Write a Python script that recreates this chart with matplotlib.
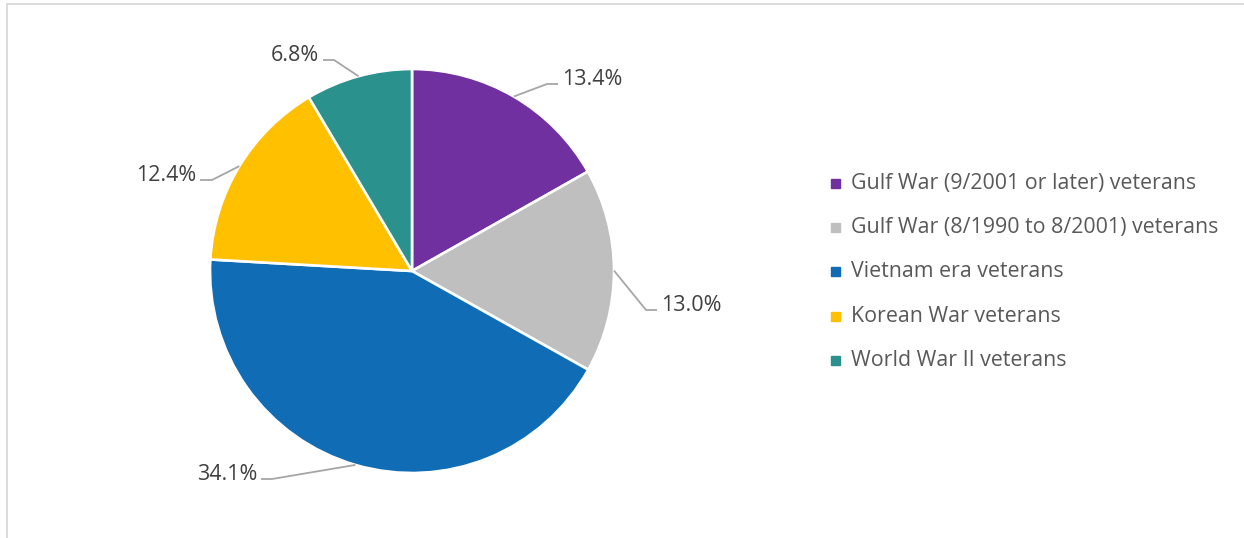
import matplotlib.pyplot as plt
import matplotlib.patches as mpatches
import numpy as np

# данные
categories = ['Gulf War (9/2001 or later) veterans',
              'Gulf War (8/1990 to 8/2001) veterans',
              'Vietnam era veterans',
              'Korean War veterans',
              'World War II veterans']
shares = [13.4, 13.0, 34.1, 12.4, 6.8]
labels = ['13.4%', '13.0%', '34.1%', '12.4%', '6.8%']
colors = ['#7030A0', '#BFBFBF', '#106DB5', '#FFC000', '#2A918D']

# геометрия в пикселях
W, H = 1244, 538
cx, cy, R = 412, 271, 202


def px(x, y):
    return (x - cx) / R, (cy - y) / R


# где стоят подписи: (x текста, y низа, ha, x излома)
label_pos = [(562, 84, 'left', 547),
             (661, 310, 'left', 646),
             (257, 479, 'right', 272),
             (196, 180, 'right', 212),
             (319, 60, 'right', 334)]

plt.rcParams['font.family'] = ['Open Sans', 'DejaVu Sans']

fig = plt.figure(figsize=(W / 100, H / 100), dpi=100)
ax = fig.add_axes([0, 0, 1, 1])

wedges, _ = ax.pie(shares, colors=colors, startangle=90, counterclock=False,
                   radius=1, wedgeprops=dict(edgecolor='white', linewidth=1.9))

ax.set_xlim(-cx / R, (W - cx) / R)
ax.set_ylim((cy - H) / R, cy / R)
ax.set_aspect('equal')
ax.axis('off')

# подписи с выносками
for w, lab, (tx, ty, ha, ex) in zip(wedges, labels, label_pos):
    ang = np.deg2rad((w.theta1 + w.theta2) / 2)
    x0, y0 = np.cos(ang), np.sin(ang)
    x1, y1 = px(ex, ty)
    x2, _ = px(tx + (-4 if ha == 'left' else 4), ty)
    ax.plot([x0, x1, x2], [y0, y1, y1], color='#A6A6A6', lw=1.3,
            solid_capstyle='butt')
    xt, yt = px(tx, ty + 1)
    ax.text(xt, yt, lab, ha=ha, va='baseline', fontsize=15.5, color='#404040')

# легенда
for i, (cat, col) in enumerate(zip(categories, colors)):
    y = 183.5 + i * 44.2
    fig.patches.append(mpatches.Rectangle(((831) / W, 1 - (y + 4.5) / H), 9 / W, 9 / H,
                                          transform=fig.transFigure, color=col))
    fig.text(851 / W, 1 - y / H, cat, ha='left', va='center', fontsize=15.4,
             color='#595959')

# рамка
fig.patches.append(mpatches.Rectangle((7 / W, -0.1), 1.2, 1 - 4 / H + 0.1,
                                      transform=fig.transFigure, fill=False,
                                      edgecolor='#D9D9D9', lw=1.3))

fig.savefig('out.png', dpi=100)
